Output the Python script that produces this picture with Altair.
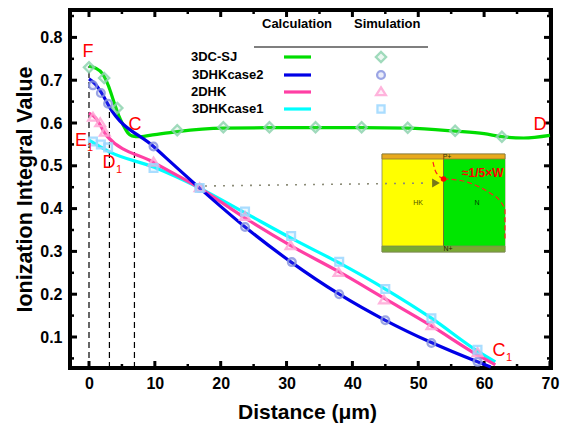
import altair as alt
import pandas as pd

# ---- read values (Distance, Ionization integral)
green_x = [0.0, 1.0, 2.0, 3.0, 3.7, 4.5, 5.2, 5.9, 6.5, 7.7, 10.0, 13.4, 20.4, 27.4, 34.4, 41.4, 48.4, 55.6, 60.0, 62.7, 66.0, 70.0]
green_y = [0.733, 0.728, 0.716, 0.685, 0.653, 0.618, 0.595, 0.577, 0.570, 0.568, 0.573, 0.580, 0.588, 0.589, 0.589, 0.589, 0.588, 0.581, 0.575, 0.568, 0.565, 0.571]
blue_x = [0.0, 1.0, 2.0, 3.0, 9.8, 16.8, 23.7, 30.7, 38.0, 45.0, 52.0, 59.0, 61.0]
blue_y = [0.703, 0.69, 0.668, 0.640, 0.545, 0.448, 0.357, 0.275, 0.200, 0.139, 0.087, 0.042, 0.030]
pink_x = [0.0, 1.0, 2.7, 9.8, 16.8, 23.7, 30.7, 38.0, 45.0, 52.0, 59.0, 61.7]
pink_y = [0.623, 0.612, 0.570, 0.508, 0.448, 0.378, 0.313, 0.252, 0.189, 0.126, 0.058, 0.035]
cyan_x = [0.0, 3.2, 9.8, 16.8, 23.7, 30.7, 38.0, 45.0, 52.0, 59.0, 61.7]
cyan_y = [0.560, 0.532, 0.497, 0.448, 0.390, 0.331, 0.273, 0.212, 0.144, 0.067, 0.042]

green_mx = [0.0, 2.3, 4.3, 13.4, 20.4, 27.4, 34.4, 41.4, 48.4, 55.6, 62.7]
green_my = [0.730, 0.705, 0.635, 0.583, 0.590, 0.590, 0.590, 0.590, 0.589, 0.582, 0.568]
blue_mx = [0.6, 1.8, 2.9, 9.8, 16.8, 23.7, 30.8, 38.0, 45.0, 52.0, 59.0]
blue_my = [0.688, 0.670, 0.645, 0.545, 0.448, 0.357, 0.275, 0.200, 0.139, 0.086, 0.042]
pink_mx = [0.6, 1.7, 2.4, 9.8, 16.8, 23.7, 30.6, 37.9, 44.8, 52.0, 59.0]
pink_my = [0.613, 0.600, 0.578, 0.508, 0.448, 0.381, 0.313, 0.250, 0.186, 0.126, 0.063]
cyan_mx = [0.6, 1.8, 2.9, 9.8, 16.8, 23.7, 30.7, 38.0, 45.0, 52.0, 59.0]
cyan_my = [0.557, 0.550, 0.543, 0.495, 0.448, 0.393, 0.336, 0.276, 0.212, 0.144, 0.070]

x_major = [0, 10, 20, 30, 40, 50, 60, 70]
x_minor = [5, 15, 25, 35, 45, 55, 65]
y_major = [0.1, 0.2, 0.3, 0.4, 0.5, 0.6, 0.7, 0.8]
y_minor = [0.05, 0.15, 0.25, 0.35, 0.45, 0.55, 0.65, 0.75, 0.85]

legend_names = ["3DC-SJ", "3DHKcase2", "2DHK", "3DHKcase1"]

FONT = "Liberation Sans"
W, H = 481, 358
TRI = "M-1,0.65L1,0.65L0,-0.95Z"


def dx(px):
    return (px - 89) / 6.585


def dy(py):
    return 0.1 + (337 - py) / 428


XS = alt.Scale(domain=[dx(70), dx(551)], nice=False, zero=False)
YS = alt.Scale(domain=[dy(368), dy(10)], nice=False, zero=False)
XA = alt.Axis(values=x_major, format="d", grid=False, domain=False, ticks=False, labelPadding=7,
              labelFont=FONT, labelFontWeight="bold", labelFontSize=16, labelColor="black",
              titleFont=FONT, titleFontWeight="bold", titleFontSize=21, titleColor="black", titlePadding=10,
              titleX=237)
YA = alt.Axis(values=y_major, format=".1f", grid=False, domain=False, ticks=False, labelPadding=8,
              labelFont=FONT, labelFontWeight="bold", labelFontSize=16, labelColor="black",
              titleFont=FONT, titleFontWeight="bold", titleFontSize=21.5, titleColor="black", titlePadding=3)


def X(f="x"):
    return alt.X(f"{f}:Q", scale=XS, axis=XA, title="Distance (μm)")


def Y(f="y"):
    return alt.Y(f"{f}:Q", scale=YS, axis=YA, title="Ionization Integral Value")


def line(xs, ys, color, width=3.2, interp="monotone", **kw):
    d = pd.DataFrame({"x": xs, "y": ys, "o": range(len(xs))})
    return alt.Chart(d).mark_line(color=color, strokeWidth=width, interpolate=interp, **kw).encode(
        x=X(), y=Y(), order="o:O")


def pts(xs, ys, shape, color, size=75):
    d = pd.DataFrame({"x": xs, "y": ys})
    return alt.Chart(d).mark_point(shape=shape, size=size, stroke=color, strokeWidth=2.3,
                                   fill=color, fillOpacity=0.2, opacity=0.85).encode(x=X(), y=Y())


def text(px, py, s, size=13, color="black", bold=True, align="left"):
    d = pd.DataFrame({"x": [dx(px)], "y": [dy(py)], "t": [s]})
    return alt.Chart(d).mark_text(font=FONT, fontSize=size, color=color, align=align, baseline="middle",
                                  fontWeight="bold" if bold else "normal").encode(x=X(), y=Y(), text="t:N")


def box(x0, y0, x1, y1, fill, stroke=None):
    d = pd.DataFrame({"x": [dx(x0)], "x2": [dx(x1)], "y": [dy(y0)], "y2": [dy(y1)]})
    kw = dict(stroke=stroke, strokeWidth=0.8) if stroke else {"strokeWidth": 0}
    return alt.Chart(d).mark_rect(fill=fill, **kw).encode(x=X(), x2="x2:Q", y=Y(), y2="y2:Q")


layers = []

# inward ticks
for vals, ln, sw in ((x_major, 7, 3), (x_minor, 4, 2.5)):
    d = pd.DataFrame({"x": vals})
    layers.append(alt.Chart(d).mark_rule(color="black", strokeWidth=sw).encode(x=X(), y=alt.value(H), y2=alt.value(H - ln)))
    layers.append(alt.Chart(d).mark_rule(color="black", strokeWidth=sw).encode(x=X(), y=alt.value(0), y2=alt.value(ln)))
for vals, ln, sw in ((y_major, 7, 3), (y_minor, 4, 2.5)):
    d = pd.DataFrame({"y": vals})
    layers.append(alt.Chart(d).mark_rule(color="black", strokeWidth=sw).encode(y=Y(), x=alt.value(0), x2=alt.value(ln)))
    layers.append(alt.Chart(d).mark_rule(color="black", strokeWidth=sw).encode(y=Y(), x=alt.value(W), x2=alt.value(W - ln)))

# dashed guides
for gx, gtop in ((0.0, 0.733), (3.1, 0.64), (6.9, 0.57)):
    layers.append(line([gx, gx], [dy(368), gtop], "black", width=1.2, interp="linear", strokeDash=[6, 4]))

# inset
layers += [
    box(382, 154, 505, 252, "#ffff00", "#8a8a5a"),
    box(443.5, 159, 505, 246, "#00e600"),
    box(382, 154, 505, 159, "#e8a91e", "#8a7a30"),
    box(382, 246, 505, 252, "#7aa832", "#7a8a50"),
    line([dx(443.5), dx(443.5)], [dy(159), dy(246)], "#6a7a30", width=1, interp="linear"),
    line([dx(205), dx(430)], [dy(186), dy(183)], "#8c8c78", width=1.6, interp="linear", strokeDash=[2, 7]),
    text(447, 157, "P+", size=7, bold=False, align="center", color="#333300"),
    text(418, 203, "HK", size=7, bold=False, align="center", color="#555500"),
    text(477, 203, "N", size=7, bold=False, align="center", color="#004400"),
    text(448, 249, "N+", size=7, bold=False, align="center", color="#222200"),
    line([dx(p) for p in (433, 435, 438, 443.5)], [dy(p) for p in (162, 170, 175, 179)], "#ff2020", width=1.2, strokeDash=[5, 3]),
    line([dx(p) for p in (443.5, 458, 475, 490, 500, 505, 505)], [dy(p) for p in (179, 180, 185, 193, 201, 210, 241)],
         "#ff2020", width=1.2, strokeDash=[5, 3]),
    alt.Chart(pd.DataFrame({"x": [dx(436)], "y": [dy(183)]})).mark_point(
        shape="triangle-right", size=80, filled=True, color="#77771a", opacity=1).encode(x=X(), y=Y()),
    alt.Chart(pd.DataFrame({"x": [dx(443.5)], "y": [dy(179)]})).mark_point(
        shape="circle", size=30, filled=True, color="#ff0000", opacity=1).encode(x=X(), y=Y()),
    text(462, 173, "≈1/5×W", size=12, color="#ff0000"),
]

# curves
layers += [
    line(green_x, green_y, "#00dd00"),
    line(cyan_x, cyan_y, "#00ffff"),
    line(pink_x, pink_y, "#ff3fa4"),
    line(blue_x, blue_y, "#0000e6"),
    pts(green_mx, green_my, "diamond", "#8fd4b0", 105),
    pts(blue_mx, blue_my, "circle", "#8a96e0", 60),
    pts(pink_mx, pink_my, TRI, "#ffa6d6", 95),
    pts(cyan_mx, cyan_my, "square", "#9cd8ff", 60),
]

# legend
layers += [text(262, 24, "Calculation"), text(354, 24, "Simulation")]
layers.append(line([dx(254), dx(428)], [dy(47), dy(47)], "#555555", width=1.4, interp="linear"))
ly = [57, 75, 92, 109]
lx = [191, 192, 191, 192]
lc = ["#00dd00", "#0000e6", "#ff3fa4", "#00ffff"]
mc = ["#8fd4b0", "#8a96e0", "#ffa6d6", "#9cd8ff"]
sh = ["diamond", "circle", TRI, "square"]
sz = [105, 60, 95, 50]
for i, name in enumerate(legend_names):
    layers.append(text(lx[i], ly[i], name))
    layers.append(line([dx(284), dx(311)], [dy(ly[i]), dy(ly[i])], lc[i], interp="linear"))
    layers.append(pts([dx(381)], [dy(ly[i])], sh[i], mc[i], sz[i]))

# red labels
RED = "#ff0000"
layers += [
    text(88, 52, "F", size=18, color=RED, bold=False, align="center"),
    text(135, 125, "C", size=18, color=RED, bold=False, align="center"),
    text(81, 141, "E", size=18, color=RED, bold=False, align="center"),
    text(90, 148, "1", size=11, color=RED, bold=False, align="center"),
    text(109, 163, "D", size=18, color=RED, bold=False, align="center"),
    text(119, 170, "1", size=11, color=RED, bold=False, align="center"),
    text(499, 351, "C", size=18, color=RED, bold=False, align="center"),
    text(509, 358, "1", size=11, color=RED, bold=False, align="center"),
    text(540, 125, "D", size=18, color=RED, bold=False, align="center"),
]

chart = alt.layer(*layers).properties(
    width=W, height=H,
    autosize=alt.AutoSizeParams(type="none"),
    padding={"left": 62, "top": 2, "right": 10, "bottom": 57},
    background="white",
).configure_view(stroke="black", strokeWidth=4)

chart.save("out.html", embed_options={"renderer": "svg", "actions": False})
